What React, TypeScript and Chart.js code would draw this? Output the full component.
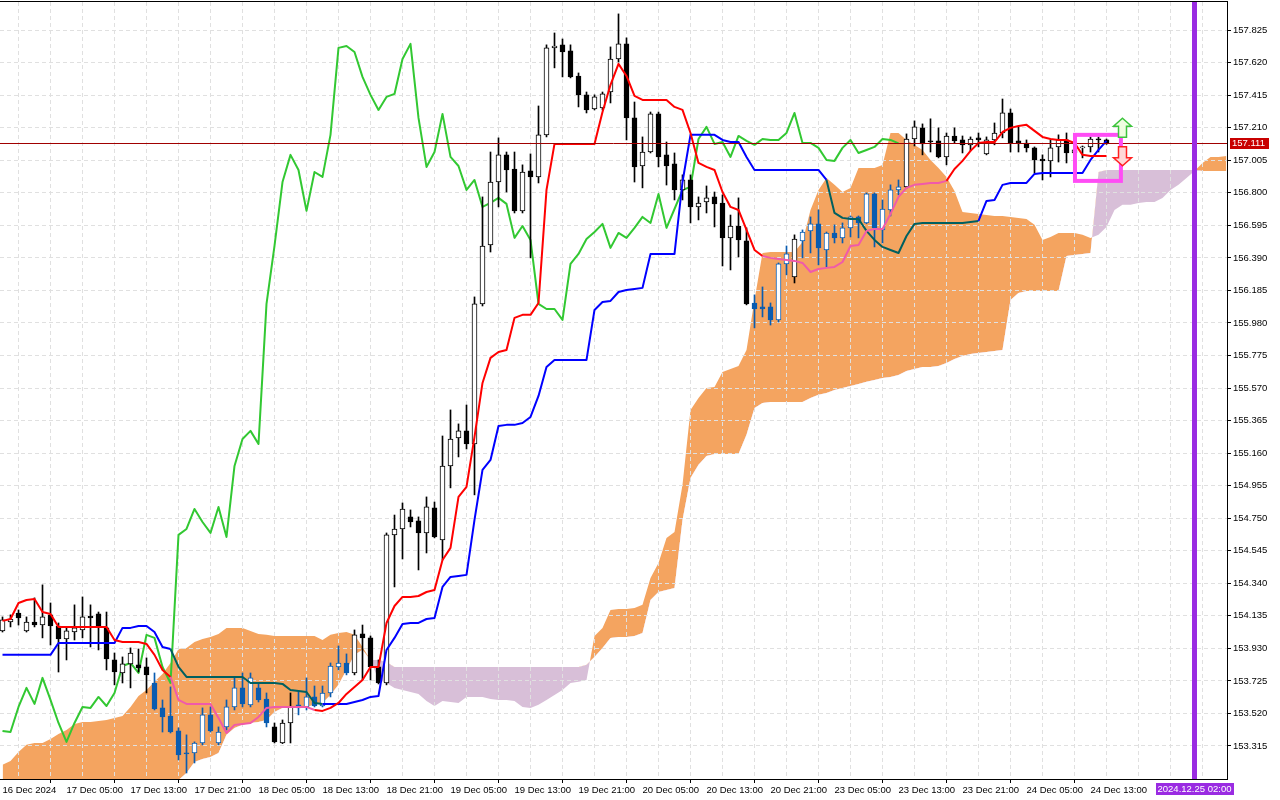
import React, { useEffect, useRef } from 'react';
import { Chart, registerables } from 'chart.js';

Chart.register(...registerables);

// ---------- data (hourly bars, bar 0 = 16 Dec 21:00) ----------
const OPEN = [
  154.040,154.096,154.153,154.040,154.096,154.077,154.141,154.071,153.989,154.033,
  154.046,154.134,154.147,154.059,153.857,153.775,153.832,153.826,153.813,153.712,
  153.555,153.504,153.410,153.271,153.271,153.334,153.511,153.334,153.435,153.561,
  153.681,153.574,153.681,153.611,153.435,153.334,153.460,153.574,153.561,153.624,
  153.567,153.649,153.813,153.838,153.775,154.021,153.996,153.813,153.712,154.645,
  154.682,154.758,154.733,154.657,154.815,154.613,155.079,155.256,155.300,155.218,
  156.100,156.471,156.868,157.039,156.950,156.686,156.938,156.900,157.165,157.713,
  157.732,157.694,157.536,157.417,157.328,157.334,157.435,157.643,157.738,157.272,
  156.969,157.057,157.297,157.039,156.982,156.818,156.881,156.711,156.742,156.774,
  156.736,156.516,156.591,156.497,156.106,156.081,156.081,155.999,156.352,156.270,
  156.497,156.560,156.604,156.440,156.547,156.516,156.579,156.648,156.610,156.793,
  156.566,156.692,156.818,156.837,157.139,157.209,157.127,157.127,157.026,157.158,
  157.133,157.102,157.146,157.045,157.133,157.177,157.303,157.127,157.114,157.083,
  157.013,157.001,157.089,157.133,157.051,157.083,157.089,157.139,157.133
];
const HIGH = [
  154.128,154.141,154.172,154.128,154.248,154.330,154.216,154.090,154.065,154.204,
  154.254,154.204,154.159,154.159,153.901,153.876,153.933,153.926,153.870,153.775,
  153.605,153.687,153.429,153.385,153.341,153.555,153.561,153.435,153.605,153.750,
  153.775,153.775,153.712,153.649,153.460,153.479,153.649,153.655,153.744,153.693,
  153.693,153.838,153.945,153.895,154.046,154.077,154.008,153.857,154.657,154.770,
  154.846,154.802,154.758,154.884,154.852,155.268,155.432,155.344,155.463,156.144,
  156.774,157.057,157.146,157.057,157.057,156.976,157.045,157.347,157.732,157.807,
  157.769,157.732,157.555,157.435,157.417,157.435,157.719,157.927,157.776,157.372,
  157.152,157.309,157.309,157.120,157.051,156.913,156.913,156.774,156.843,156.805,
  156.787,156.660,156.768,156.579,156.157,156.207,156.106,156.358,156.465,156.535,
  156.566,156.648,156.692,156.553,156.598,156.610,156.654,156.654,156.799,156.799,
  156.755,156.850,156.881,157.171,157.253,157.234,157.266,157.209,157.177,157.209,
  157.158,157.152,157.177,157.152,157.240,157.391,157.328,157.215,157.133,157.089,
  157.039,157.133,157.165,157.177,157.102,157.095,157.152,157.152,157.139
];
const LOW = [
  154.033,154.065,154.077,154.033,154.065,153.996,153.951,153.781,153.857,153.983,
  153.996,153.939,153.920,153.794,153.700,153.712,153.681,153.781,153.649,153.542,
  153.403,153.397,153.227,153.145,153.208,153.322,153.403,153.322,153.416,153.542,
  153.561,153.561,153.592,153.435,153.334,153.330,153.334,153.511,153.542,153.561,
  153.561,153.624,153.794,153.763,153.763,153.731,153.731,153.706,153.700,154.317,
  154.493,154.695,154.424,154.531,154.626,154.487,154.941,155.136,155.186,154.897,
  156.087,156.427,156.711,156.805,156.673,156.673,156.390,156.862,157.152,157.587,
  157.530,157.524,157.341,157.303,157.322,157.322,157.366,157.624,157.133,156.868,
  156.831,157.051,156.963,156.849,156.755,156.755,156.610,156.629,156.673,156.585,
  156.339,156.314,156.396,156.094,155.949,156.018,155.967,155.986,156.283,156.232,
  156.390,156.421,156.346,156.333,156.484,156.484,156.522,156.516,156.605,156.459,
  156.484,156.654,156.787,156.830,157.095,157.039,157.057,157.020,156.976,157.114,
  157.051,157.064,157.089,157.039,157.102,157.146,157.057,157.057,157.057,156.925,
  156.881,156.900,156.994,156.988,157.020,157.020,157.057,157.057,157.105
];
const CLOSE = [
  154.109,154.115,154.122,154.096,154.077,154.128,154.071,153.989,154.040,154.059,
  154.128,154.122,154.065,153.863,153.781,153.832,153.901,153.807,153.763,153.548,
  153.498,153.403,153.259,153.265,153.334,153.511,153.410,153.403,153.561,153.681,
  153.580,153.744,153.605,153.460,153.341,153.460,153.561,153.555,153.624,153.567,
  153.649,153.819,153.838,153.775,154.015,153.996,153.813,153.712,154.645,154.682,
  154.808,154.726,154.657,154.821,154.632,155.079,155.249,155.300,155.218,156.100,
  156.465,156.868,157.039,156.944,156.686,156.931,156.900,157.165,157.713,157.725,
  157.687,157.530,157.417,157.322,157.404,157.423,157.643,157.738,157.272,156.963,
  157.057,157.297,157.026,156.969,156.818,156.881,156.711,156.736,156.768,156.730,
  156.516,156.591,156.503,156.100,156.068,156.068,155.999,156.352,156.415,156.509,
  156.553,156.604,156.453,156.547,156.516,156.579,156.648,156.610,156.793,156.579,
  156.698,156.818,156.837,157.139,157.215,157.108,157.120,157.026,157.158,157.127,
  157.102,157.139,157.133,157.133,157.177,157.303,157.114,157.114,157.083,157.007,
  157.001,157.083,157.133,157.051,157.070,157.089,157.139,157.133,157.111
];
const TENKAN = [
  154.103,154.115,154.216,154.235,154.241,154.159,154.147,154.065,154.065,154.065,
  154.065,154.065,154.065,154.065,153.983,153.970,153.970,153.970,153.958,153.889,
  153.794,153.750,153.605,153.580,153.580,153.580,153.580,153.492,153.397,153.448,
  153.454,153.460,153.498,153.555,153.561,153.561,153.561,153.561,153.561,153.542,
  153.536,153.555,153.586,153.643,153.687,153.731,153.813,153.813,154.090,154.197,
  154.254,154.254,154.260,154.285,154.298,154.487,154.563,154.884,154.947,155.262,
  155.602,155.760,155.797,155.810,156.012,156.031,156.031,156.106,156.818,157.108,
  157.108,157.108,157.108,157.108,157.108,157.309,157.480,157.612,157.536,157.410,
  157.385,157.385,157.385,157.385,157.341,157.322,157.177,156.988,156.963,156.944,
  156.805,156.711,156.692,156.566,156.440,156.402,156.390,156.383,156.377,156.371,
  156.358,156.301,156.320,156.327,156.333,156.364,156.465,156.471,156.560,156.572,
  156.572,156.667,156.774,156.831,156.850,156.856,156.862,156.862,156.875,156.950,
  157.001,157.064,157.114,157.120,157.120,157.183,157.209,157.221,157.228,157.190,
  157.152,157.139,157.133,157.133,157.114,157.039,157.032,157.032,157.032
];
const KIJUN = [
  153.889,153.889,153.889,153.889,153.889,153.889,153.889,153.964,153.964,153.964,
  153.964,153.964,153.964,153.964,153.964,154.059,154.059,154.071,154.071,154.033,
  153.939,153.926,153.813,153.750,153.750,153.750,153.750,153.750,153.750,153.750,
  153.750,153.712,153.712,153.712,153.712,153.706,153.668,153.662,153.655,153.586,
  153.580,153.580,153.580,153.580,153.592,153.605,153.624,153.630,153.920,153.996,
  154.084,154.090,154.090,154.115,154.122,154.317,154.380,154.386,154.393,154.739,
  155.054,155.117,155.331,155.338,155.338,155.350,155.388,155.520,155.703,155.747,
  155.747,155.747,155.747,155.747,156.062,156.112,156.119,156.175,156.188,156.194,
  156.201,156.415,156.415,156.415,156.415,156.868,157.165,157.165,157.165,157.165,
  157.133,157.120,157.120,157.026,156.944,156.944,156.944,156.944,156.944,156.944,
  156.944,156.944,156.944,156.881,156.673,156.642,156.635,156.635,156.560,156.503,
  156.459,156.440,156.421,156.528,156.604,156.610,156.610,156.610,156.610,156.610,
  156.610,156.616,156.623,156.749,156.755,156.850,156.862,156.862,156.862,156.919,
  156.925,156.925,156.925,156.925,156.925,156.925,157.007,157.070,157.127
];
// Chikou span, drawn 26 bars back
const CHIKOU = [
  153.410,153.403,153.561,153.681,153.580,153.744,153.605,153.460,153.341,153.460,
  153.561,153.555,153.624,153.567,153.649,153.819,153.838,153.775,154.015,153.996,
  153.813,153.712,154.645,154.682,154.808,154.726,154.657,154.821,154.632,155.079,
  155.249,155.300,155.218,156.100,156.465,156.868,157.039,156.944,156.686,156.931,
  156.900,157.165,157.713,157.725,157.687,157.530,157.417,157.322,157.404,157.423,
  157.643,157.738,157.272,156.963,157.057,157.297,157.026,156.969,156.818,156.881,
  156.711,156.736,156.768,156.730,156.516,156.591,156.503,156.100,156.068,156.068,
  155.999,156.352,156.415,156.509,156.553,156.604,156.453,156.547,156.516,156.579,
  156.648,156.610,156.793,156.579,156.698,156.818,156.837,157.139,157.215,157.108,
  157.120,157.026,157.158,157.127,157.102,157.139,157.133,157.133,157.177,157.303,
  157.114,157.114,157.083,157.007,157.001,157.083,157.133,157.051,157.070,157.089,
  157.139,157.133,157.111
];
// Senkou spans, drawn 26 bars forward
const SENKOU_A = [
  153.196,153.221,153.277,153.322,153.334,153.334,153.359,153.391,153.416,153.454,
  153.466,153.466,153.473,153.479,153.492,153.504,153.561,153.630,153.668,153.719,
  153.769,153.838,153.926,153.933,153.970,153.989,154.002,154.021,154.059,154.059,
  154.059,154.040,154.021,154.015,154.008,154.008,154.008,154.008,154.008,154.008,
  153.983,154.015,154.027,154.033,154.015,153.939,153.857,153.731,153.712,153.681,
  153.668,153.655,153.643,153.599,153.567,153.599,153.592,153.586,153.624,153.624,
  153.624,153.611,153.605,153.605,153.599,153.561,153.555,153.574,153.605,153.636,
  153.668,153.712,153.719,153.731,154.008,154.059,154.172,154.178,154.178,154.185,
  154.204,154.374,154.468,154.626,154.663,154.960,155.432,155.508,155.571,155.577,
  155.671,155.690,155.709,155.810,156.125,156.421,156.427,156.427,156.427,156.427,
  156.490,156.692,156.818,156.894,156.850,156.805,156.831,156.957,156.957,156.957,
  156.975,157.177,157.177,157.133,157.101,157.070,157.007,156.957,156.900,156.812,
  156.679,156.673,156.667,156.660,156.654,156.654,156.648,156.642,156.635,156.598,
  156.503,156.522,156.547,156.547,156.547,156.535,156.516,156.535,156.585,156.692,
  156.724,156.724,156.736,156.742,156.742,156.768,156.818,156.850,156.894,156.938,
  156.988,157.026,157.026,157.032
];
const SENKOU_B = [
  153.100,153.100,153.100,153.100,153.100,153.100,153.100,153.100,153.100,153.100,
  153.100,153.100,153.100,153.100,153.100,153.100,153.100,153.100,153.100,153.100,
  153.100,153.100,153.101,153.145,153.214,153.233,153.246,153.271,153.385,153.429,
  153.448,153.460,153.466,153.479,153.529,153.555,153.561,153.561,153.561,153.574,
  153.586,153.636,153.700,153.794,153.889,153.920,153.857,153.857,153.844,153.813,
  153.813,153.813,153.813,153.813,153.813,153.813,153.813,153.813,153.813,153.813,
  153.813,153.813,153.813,153.813,153.813,153.813,153.813,153.813,153.813,153.813,
  153.813,153.813,153.813,153.826,153.876,153.933,153.996,154.002,154.002,154.008,
  154.027,154.235,154.285,154.298,154.311,154.739,155.004,155.086,155.142,155.155,
  155.155,155.155,155.155,155.275,155.445,155.476,155.482,155.482,155.482,155.482,
  155.482,155.508,155.527,155.539,155.558,155.571,155.583,155.596,155.609,155.621,
  155.634,155.640,155.652,155.678,155.690,155.703,155.703,155.709,155.728,155.753,
  155.772,155.785,155.791,155.797,155.804,155.810,156.125,156.169,156.182,156.182,
  156.182,156.182,156.182,156.402,156.408,156.415,156.421,156.931,156.944,156.944,
  156.944,156.944,156.944,156.944,156.944,156.944,156.944,156.944,156.944,156.944,
  156.938,156.938,156.938,156.938
];

const TIME_LABELS = [
  '16 Dec 2024','17 Dec 05:00','17 Dec 13:00','17 Dec 21:00','18 Dec 05:00','18 Dec 13:00',
  '18 Dec 21:00','19 Dec 05:00','19 Dec 13:00','19 Dec 21:00','20 Dec 05:00','20 Dec 13:00',
  '20 Dec 21:00','23 Dec 05:00','23 Dec 13:00','23 Dec 21:00','24 Dec 05:00','24 Dec 13:00'
];
const PRICE_TICKS = [
  153.315,153.520,153.725,153.930,154.135,154.340,154.545,154.750,154.955,155.160,155.365,155.570,
  155.775,155.980,156.185,156.390,156.595,156.800,157.005,157.210,157.415,157.620,157.825
];
const LAST_PRICE = 157.111;
const FUTURE_BAR = 149;
const FUTURE_LABEL = '2024.12.25 02:00';
const BOX = { from: 134.06, to: 139.8, top: 157.165, bottom: 156.875 };
const UP_ARROW = { bar: 140, tip: 157.27, base: 157.15 };
const DOWN_ARROW = { bar: 140, top: 157.09, tip: 156.97 };

// bars / segments that lie inside the cloud (drawn in alternate colours)
const KUMO_CANDLES = [[19, 33], [37, 43], [94, 98], [100, 112]];
const TENKAN_IN_KUMO = [[21, 38], [95, 117]];
const KIJUN_IN_KUMO = [[21, 39], [103, 121]];

// ---------- style ----------
const FONT = '"Liberation Sans", Arial, sans-serif';
const COLORS = {
  orange: '#f4a460',
  thistle: '#d8bfd8',
  tenkan: '#ff0000',
  tenkanK: '#f05aaa',
  kijun: '#0000ff',
  kijunK: '#006060',
  chikou: '#32c832',
  kumoCandle: '#0a5cb0',
  grid: '#e0e0e0',
  priceLine: '#a00000',
  priceBox: '#c80000',
  purple: '#9a2be2',
  box: '#ff4cf5',
};
const X_MIN = -0.3125;
const X_MAX = 153.0625;
const Y_MIN = 153.107;
const Y_MAX = 158.002;

const inRanges = (i: number, ranges: number[][]) => ranges.some(([a, b]) => i >= a && i <= b);
const pts = (arr: number[]) => arr.map((v, i) => ({ x: i, y: v }));

function candleColors() {
  const fill: string[] = [], border: string[] = [], wick: string[] = [];
  for (let i = 0; i < OPEN.length; i++) {
    const k = inRanges(i, KUMO_CANDLES);
    const base = k ? COLORS.kumoCandle : '#000000';
    const bull = CLOSE[i] >= OPEN[i];
    fill.push(bull ? '#ffffff' : base);
    border.push(base);
    wick.push(base);
  }
  return { fill, border, wick };
}

function arrowUp(ctx: CanvasRenderingContext2D, cx: number, tip: number, base: number) {
  const hw = 9, sw = 4, hh = 8;
  ctx.beginPath();
  ctx.moveTo(cx, tip);
  ctx.lineTo(cx + hw, tip + hh);
  ctx.lineTo(cx + sw, tip + hh);
  ctx.lineTo(cx + sw, base);
  ctx.lineTo(cx - sw, base);
  ctx.lineTo(cx - sw, tip + hh);
  ctx.lineTo(cx - hw, tip + hh);
  ctx.closePath();
}
function arrowDown(ctx: CanvasRenderingContext2D, cx: number, top: number, tip: number) {
  const hw = 9, sw = 4, hh = 8;
  ctx.beginPath();
  ctx.moveTo(cx - sw, top);
  ctx.lineTo(cx + sw, top);
  ctx.lineTo(cx + sw, tip - hh);
  ctx.lineTo(cx + hw, tip - hh);
  ctx.lineTo(cx, tip);
  ctx.lineTo(cx - hw, tip - hh);
  ctx.lineTo(cx - sw, tip - hh);
  ctx.closePath();
}

const overlayPlugin = {
  id: 'ichimokuOverlay',
  afterDatasetsDraw(chart: any) {
    const { ctx, chartArea: a } = chart;
    const xs = chart.scales.x, ys = chart.scales.y;
    ctx.save();
    ctx.beginPath();
    ctx.rect(a.left, a.top, a.right - a.left, a.bottom - a.top);
    ctx.clip();
    // last price line
    const py = Math.round(ys.getPixelForValue(LAST_PRICE)) + 0.5;
    ctx.strokeStyle = COLORS.priceLine;
    ctx.lineWidth = 1;
    ctx.beginPath();
    ctx.moveTo(a.left, py);
    ctx.lineTo(a.right, py);
    ctx.stroke();
    // future time marker
    const fx = xs.getPixelForValue(FUTURE_BAR);
    ctx.fillStyle = COLORS.purple;
    ctx.fillRect(Math.round(fx - 2.5), a.top, 5, a.bottom - a.top);
    // highlight box
    const bx1 = xs.getPixelForValue(BOX.from), bx2 = xs.getPixelForValue(BOX.to);
    const by1 = ys.getPixelForValue(BOX.top), by2 = ys.getPixelForValue(BOX.bottom);
    ctx.strokeStyle = COLORS.box;
    ctx.lineWidth = 4;
    ctx.strokeRect(bx1, by1, bx2 - bx1, by2 - by1);
    // arrows
    ctx.lineWidth = 1.5;
    const ux = xs.getPixelForValue(UP_ARROW.bar);
    arrowUp(ctx, ux, ys.getPixelForValue(UP_ARROW.tip), ys.getPixelForValue(UP_ARROW.base));
    ctx.fillStyle = '#effde0';
    ctx.fill();
    ctx.strokeStyle = '#3cc43c';
    ctx.stroke();
    const dx = xs.getPixelForValue(DOWN_ARROW.bar);
    arrowDown(ctx, dx, ys.getPixelForValue(DOWN_ARROW.top), ys.getPixelForValue(DOWN_ARROW.tip));
    ctx.fillStyle = '#ffd8d8';
    ctx.fill();
    ctx.strokeStyle = '#ff2020';
    ctx.stroke();
    ctx.restore();
  },
  afterDraw(chart: any) {
    const { ctx, chartArea: a } = chart;
    const xs = chart.scales.x, ys = chart.scales.y;
    ctx.save();
    // top frame line
    ctx.fillStyle = '#000000';
    ctx.fillRect(a.left, a.top - 1, a.right - a.left + 1, 1);
    // last price label
    const py = ys.getPixelForValue(LAST_PRICE);
    ctx.fillStyle = COLORS.priceBox;
    ctx.fillRect(a.right + 3, Math.round(py) - 5, 39, 11);
    ctx.fillStyle = '#ffffff';
    ctx.font = `9.5px ${FONT}`;
    ctx.textBaseline = 'middle';
    ctx.textAlign = 'left';
    ctx.fillText(LAST_PRICE.toFixed(3), a.right + 5, Math.round(py) + 0.5);
    // future time label
    const fx = xs.getPixelForValue(FUTURE_BAR);
    ctx.fillStyle = COLORS.purple;
    ctx.fillRect(Math.round(fx) - 39, a.bottom + 4, 78, 12);
    ctx.fillStyle = '#ffffff';
    ctx.textAlign = 'center';
    ctx.fillText(FUTURE_LABEL, fx, a.bottom + 10.5);
    ctx.restore();
  },
};

export default function App() {
  const ref = useRef<HTMLCanvasElement>(null);

  useEffect(() => {
    document.body.style.margin = '0';
    const canvas = ref.current;
    if (!canvas) return;
    const cc = candleColors();

    const datasets: any[] = [
      {
        type: 'line',
        label: 'Senkou A',
        data: pts(SENKOU_A),
        borderWidth: 0,
        pointRadius: 0,
        backgroundColor: COLORS.orange,
        fill: { target: '+1', above: COLORS.orange, below: COLORS.thistle },
        order: 20,
      },
      {
        type: 'line',
        label: 'Senkou B',
        data: pts(SENKOU_B),
        borderWidth: 0,
        pointRadius: 0,
        fill: false,
        order: 21,
      },
      {
        type: 'line',
        label: 'Chikou',
        data: pts(CHIKOU),
        borderColor: COLORS.chikou,
        borderWidth: 2,
        pointRadius: 0,
        fill: false,
        borderJoinStyle: 'round',
        order: 6,
      },
      {
        type: 'bar',
        label: 'Wicks',
        data: LOW.map((l, i) => ({ x: i, y: [l, HIGH[i]] })),
        backgroundColor: cc.wick,
        borderWidth: 0,
        barThickness: 1,
        grouped: false,
        minBarLength: 1,
        order: 5,
      },
      {
        type: 'bar',
        label: 'Bodies',
        data: OPEN.map((o, i) => ({ x: i, y: [o, CLOSE[i]] })),
        backgroundColor: cc.fill,
        borderColor: cc.border,
        borderWidth: 1,
        borderSkipped: false,
        barThickness: 5,
        grouped: false,
        minBarLength: 1,
        order: 4,
      },
      {
        type: 'line',
        label: 'Kijun',
        data: pts(KIJUN),
        borderColor: COLORS.kijun,
        borderWidth: 2,
        pointRadius: 0,
        fill: false,
        borderJoinStyle: 'round',
        segment: {
          borderColor: (c: any) => (inRanges(c.p0DataIndex, KIJUN_IN_KUMO) ? COLORS.kijunK : COLORS.kijun),
        },
        order: 2,
      },
      {
        type: 'line',
        label: 'Tenkan',
        data: pts(TENKAN),
        borderColor: COLORS.tenkan,
        borderWidth: 2,
        pointRadius: 0,
        fill: false,
        borderJoinStyle: 'round',
        segment: {
          borderColor: (c: any) => (inRanges(c.p0DataIndex, TENKAN_IN_KUMO) ? COLORS.tenkanK : COLORS.tenkan),
        },
        order: 1,
      },
    ];

    const chart = new Chart(canvas, {
      type: 'line',
      data: { datasets },
      options: {
        responsive: false,
        animation: false,
        devicePixelRatio: 1,
        events: [],
        layout: { padding: { top: 2, left: 0, right: 0, bottom: 0 }, autoPadding: false },
        plugins: {
          legend: { display: false },
          tooltip: { enabled: false },
          filler: { propagate: false, drawTime: 'beforeDraw' },
        },
        scales: {
          x: {
            type: 'linear',
            min: X_MIN,
            max: X_MAX,
            offset: false,
            afterBuildTicks: (scale: any) => {
              const t = [];
              for (let v = 0; v <= 152; v += 4) t.push({ value: v });
              scale.ticks = t;
            },
            afterFit: (scale: any) => {
              scale.height = 21;
              scale.paddingLeft = 0;
              scale.paddingRight = 0;
            },
            ticks: {
              autoSkip: false,
              maxRotation: 0,
              minRotation: 0,
              align: 'start',
              padding: 2,
              color: '#000000',
              font: { family: FONT, size: 9.5 },
              callback: (v: any) => {
                const n = Number(v);
                return n % 8 === 0 && n / 8 < TIME_LABELS.length ? TIME_LABELS[n / 8] : '';
              },
            },
            grid: {
              color: COLORS.grid,
              lineWidth: 1,
              tickLength: 4,
              tickBorderDash: [],
              tickColor: (c: any) =>
                c.tick && c.tick.value % 8 === 0 && c.tick.value / 8 < TIME_LABELS.length ? '#000000' : 'rgba(0,0,0,0)',
            },
            border: { display: true, color: '#000000', width: 1, dash: [4, 3] },
          },
          y: {
            type: 'linear',
            position: 'right',
            min: Y_MIN,
            max: Y_MAX,
            afterBuildTicks: (scale: any) => {
              scale.ticks = PRICE_TICKS.map((v) => ({ value: v }));
            },
            afterFit: (scale: any) => {
              scale.width = 53;
              scale.paddingTop = 0;
              scale.paddingBottom = 0;
            },
            ticks: {
              autoSkip: false,
              padding: 2,
              color: '#000000',
              font: { family: FONT, size: 9.5 },
              callback: (v: any) => Number(v).toFixed(3),
            },
            grid: {
              color: COLORS.grid,
              lineWidth: 1,
              tickLength: 4,
              tickBorderDash: [],
              tickColor: '#000000',
            },
            border: { display: true, color: '#000000', width: 1, dash: [4, 3] },
          },
        },
      } as any,
      plugins: [overlayPlugin],
    } as any);

    return () => chart.destroy();
  }, []);

  return <canvas ref={ref} width={1280} height={800} style={{ display: 'block' }} />;
}
